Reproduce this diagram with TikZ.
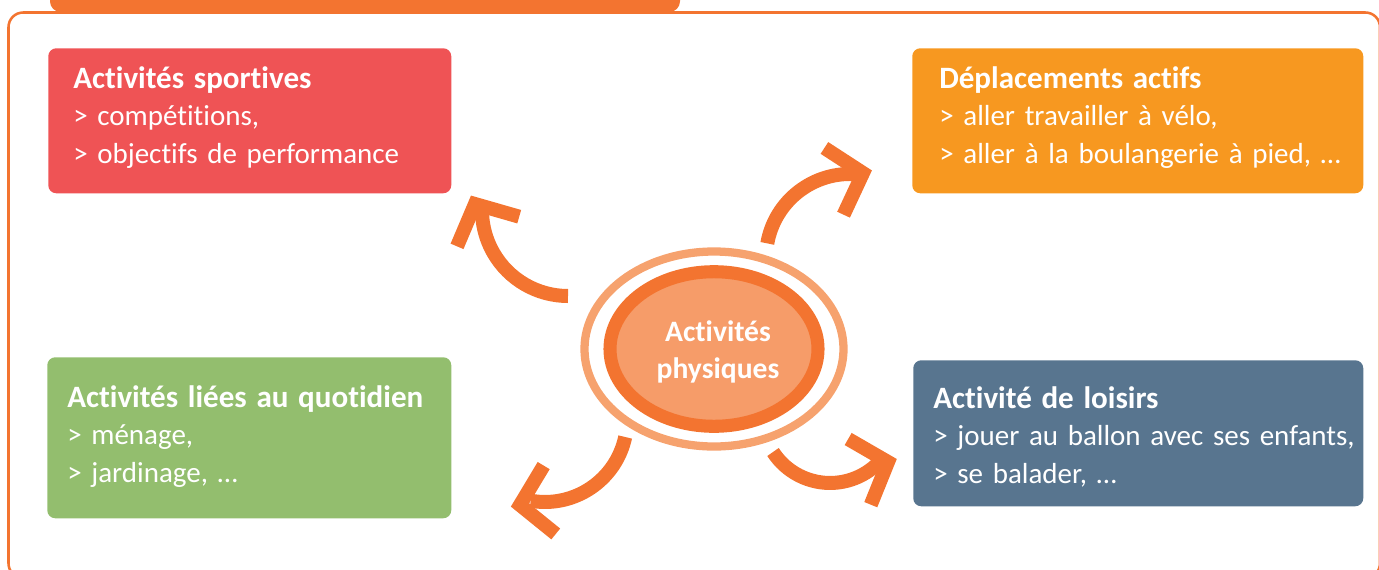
\documentclass[tikz,border=0pt]{standalone}
\usepackage{fontspec}
\setmainfont{Carlito}[Ligatures={NoCommon}]
\usepackage{tikz}
\usetikzlibrary{calc,positioning}
\definecolor{accent}{HTML}{F37430}
\definecolor{accentlight}{HTML}{F6A26E}
\definecolor{corefill}{HTML}{F69C69}
\definecolor{sportred}{HTML}{EF5355}
\definecolor{moveorange}{HTML}{F79820}
\definecolor{dailygreen}{HTML}{93BE6E}
\definecolor{leisureblue}{HTML}{58758F}
\newcommand{\cardtitle}[1]{{\bfseries\fontsize{23.3}{28.2}\selectfont #1}}
\tikzset{
  frame/.style={draw=accent, line width=1.9pt, rounded corners=11pt},
  card/.style={fill=#1, rounded corners=6pt, inner sep=0pt, anchor=north west},
  cardtxt/.style={text=white, inner sep=0pt, anchor=base west, align=left, text width=330pt,
    font=\fontsize{21.75}{28.2}\selectfont},
  coretxt/.style={text=white, inner sep=0pt, align=center,
    font=\bfseries\fontsize{22.2}{27.75}\selectfont},
  shaft/.style={draw=accent, line width=10.5pt, line cap=butt},
  barb/.style={draw=accent, line width=10.5pt, line cap=butt, line join=miter},
}

\begin{document}
\begin{tikzpicture}[x=0.75pt,y=-0.75pt]
  \useasboundingbox (0,0) rectangle (1379,569);
  \clip (0,0) rectangle (1379,569);
  % frame and title tab
  \draw[frame] (8.5,12.5) rectangle (1380,578);
  \fill[accent, rounded corners=8pt] (50,-30) rectangle (680,12);

  % the four cards
  \node[card=sportred, minimum width=302.25pt, minimum height=108.75pt] (sport) at (48,48) {};
  \node[card=moveorange, minimum width=338.25pt, minimum height=108.75pt] (move) at (912,48) {};
  \node[card=dailygreen, minimum width=303pt, minimum height=120.75pt] (daily) at (47,357) {};
  \node[card=leisureblue, minimum width=337.5pt, minimum height=109.5pt] (leisure) at (913,360) {};
  \node[cardtxt] (sporttxt) at ($(sport.north west)+(25,40)$)
    {\cardtitle{Activités sportives}\\> compétitions,\\> objectifs de performance};
  \node[cardtxt] (movetxt) at ($(move.north west)+(27,40)$)
    {\cardtitle{Déplacements actifs}\\> aller travailler à vélo,\\> aller à la boulangerie à pied, …};
  \node[cardtxt] (dailytxt) at ($(daily.north west)+(20,50)$)
    {\cardtitle{Activités liées au quotidien}\\> ménage,\\> jardinage, …};
  \node[cardtxt] (leisuretxt) at ($(leisure.north west)+(20,48)$)
    {\cardtitle{Activité de loisirs}\\> jouer au ballon avec ses enfants,\\> se balader, …};

  % centre
  \coordinate (c) at (714,349);
  \draw[draw=accentlight, line width=6.2pt] (c) ellipse [x radius=129.5, y radius=97.5];
  \draw[draw=accent, fill=corefill, line width=9.8pt] (c) ellipse [x radius=104, y radius=77.3];
  \node[coretxt] (core) at (718,352) {Activités\\physiques};

  % curved arrows
  \coordinate (t1) at (568,296);
  \coordinate (h1) at (475,204);
  \draw[shaft] (t1) arc[start angle=90, end angle=182, radius=86];
  \draw[barb] (h1) ++(113:46) -- (h1) -- ++(16:46);

  \coordinate (t2) at (767.3,243.4);
  \coordinate (h2) at (863,173);
  \draw[shaft] (t2) arc[start angle=190, end angle=275, radius=84];
  \draw[barb] (h2) ++(213:46) -- (h2) -- ++(115:46);

  \coordinate (t3) at (625.2,437);
  \coordinate (h3) at (520,505);
  \draw[shaft] (t3) arc[start angle=12, end angle=100, radius=82];
  \draw[barb] (h3) ++(-59:46) -- (h3) -- ++(39:46);

  \coordinate (t4) at (773,452);
  \coordinate (h4) at (888,462);
  \draw[shaft] (t4) arc[start angle=147, end angle=45, radius=68];
  \draw[barb] (h4) ++(210:46) -- (h4) -- ++(112:46);
\end{tikzpicture}
\end{document}
